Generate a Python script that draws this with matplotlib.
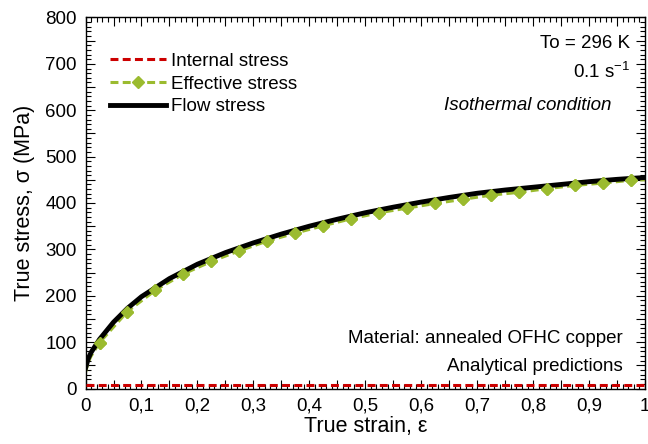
import matplotlib.pyplot as plt
from matplotlib.ticker import MultipleLocator

plt.rcParams['font.family'] = ['Liberation Sans', 'DejaVu Sans']

# flow stress curve (MPa) vs true strain
strain = [0, 0.005, 0.01, 0.025, 0.05, 0.075, 0.1, 0.15, 0.2, 0.25, 0.3,
          0.35, 0.4, 0.45, 0.5, 0.55, 0.6, 0.65, 0.7, 0.75, 0.8, 0.85,
          0.9, 0.95, 1.0]
flow_stress = [44, 65, 78, 106, 143, 173, 198, 237, 268, 293, 314,
               333, 350, 365, 379, 391, 402, 412, 421, 428, 434, 440,
               446, 451, 455]

# effective stress, symbols every 0.05 starting at 0.025
eff_strain = [0, 0.005, 0.01, 0.025, 0.075, 0.125, 0.175, 0.225, 0.275,
              0.325, 0.375, 0.425, 0.475, 0.525, 0.575, 0.625, 0.675,
              0.725, 0.775, 0.825, 0.875, 0.925, 0.975, 1.0]
eff_stress = [35, 57, 70, 99, 166, 212, 247, 274, 297, 318, 335, 351,
              366, 379, 389, 399, 408, 417, 423, 431, 438, 443, 449, 450]

# internal stress stays nearly constant
int_strain = [0, 1.0]
int_stress = [7, 7]

x_labels = ['0', '0,1', '0,2', '0,3', '0,4', '0,5', '0,6', '0,7', '0,8', '0,9', '1']

RED = '#CC0000'
GREEN = '#9BBB2F'
FS = 13.5

fig = plt.figure(figsize=(6.48, 4.44), dpi=100)
ax = fig.add_axes([0.132, 0.125, 0.8634, 0.8356])

ax.plot(int_strain, int_stress, color=RED, lw=2.2, ls=(0, (2.6, 1.4)),
        label='Internal stress', zorder=3, clip_on=False)
ax.plot(eff_strain, eff_stress, color=GREEN, lw=2.2, ls=(0, (2.6, 1.4)),
        marker='D', ms=6.5, markevery=slice(3, 23), mec=GREEN, mfc=GREEN,
        label='Effective stress', zorder=2)
ax.plot(strain, flow_stress, color='black', lw=3.5, label='Flow stress', zorder=3)
# symbols sit on top of the flow curve
ax.plot(eff_strain[3:23], eff_stress[3:23], ls='none', marker='D', ms=6.5,
        color=GREEN, zorder=4)

ax.set_xlim(0, 1)
ax.set_ylim(0, 800)

ax.xaxis.set_major_locator(MultipleLocator(0.05))
ax.xaxis.set_minor_locator(MultipleLocator(0.01))
ax.yaxis.set_major_locator(MultipleLocator(50))
ax.yaxis.set_minor_locator(MultipleLocator(10))

# only every other major tick gets a label
ax.xaxis.set_major_formatter(plt.FuncFormatter(
    lambda v, p: x_labels[int(round(v * 10))] if abs(v * 10 - round(v * 10)) < 1e-6 else ''))
ax.yaxis.set_major_formatter(plt.FuncFormatter(
    lambda v, p: '%d' % v if int(round(v)) % 100 == 0 else ''))

ax.tick_params(which='both', direction='in', top=True, right=True,
               labelsize=FS, width=0.8, pad=6.5)
ax.tick_params(which='major', length=6.5)
ax.tick_params(which='minor', length=3.5)
for s in ax.spines.values():
    s.set_linewidth(1.0)

ax.set_xlabel('True strain, ε', fontsize=15.5, labelpad=1)
ax.set_ylabel('True stress, σ (MPa)', fontsize=15.5, labelpad=7)

leg = ax.legend(loc='upper left', bbox_to_anchor=(0.03, 0.925), frameon=False,
                fontsize=FS, handlelength=3.0, handletextpad=0.25,
                labelspacing=0.3, borderaxespad=0)

ax.text(0.973, 0.931, 'To = 296 K', transform=ax.transAxes, ha='right',
        va='center', fontsize=FS)
ax.text(0.973, 0.854, '0.1 s$^{\\mathregular{-1}}$', transform=ax.transAxes,
        ha='right', va='center', fontsize=FS)
ax.text(0.939, 0.7615, 'Isothermal condition', transform=ax.transAxes,
        ha='right', va='center', fontsize=FS, style='italic')
ax.text(0.961, 0.135, 'Material: annealed OFHC copper', transform=ax.transAxes,
        ha='right', va='center', fontsize=FS)
ax.text(0.961, 0.058, 'Analytical predictions', transform=ax.transAxes,
        ha='right', va='center', fontsize=FS)

fig.savefig('out.png', dpi=100)
